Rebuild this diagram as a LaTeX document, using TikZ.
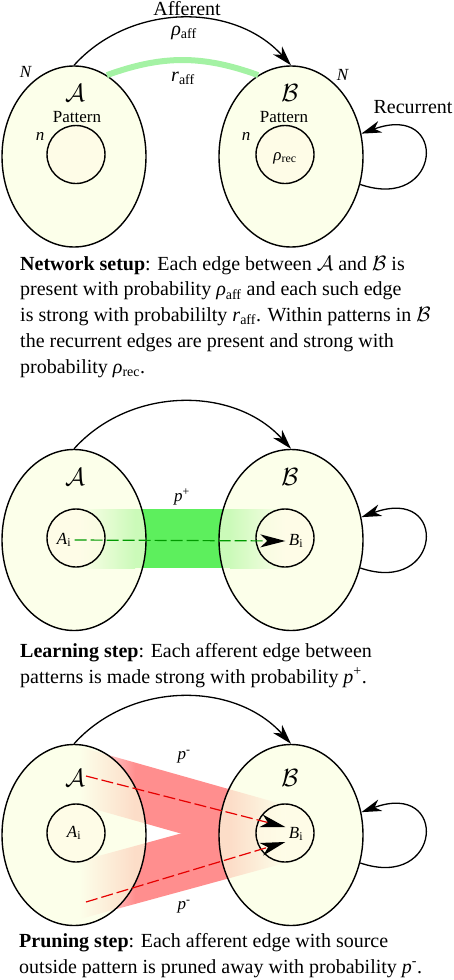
\documentclass[tikz,border=0pt]{standalone}
\usepackage{fontspec}
\setmainfont{Liberation Serif}
\usepackage{tikz}
\usetikzlibrary{shapes.geometric,arrows.meta,calc}
\definecolor{popfill}{HTML}{FBFFE1}
\definecolor{patfill}{HTML}{FFFCE7}
\definecolor{strongarc}{HTML}{A4F2A4}
\definecolor{learnband}{HTML}{5DEF5D}
\definecolor{learnline}{HTML}{009A00}
\definecolor{pruneband}{HTML}{FF8E8E}
\definecolor{pruneline}{HTML}{E60000}

\newcommand{\rhoaff}{\textit{ρ}\textsubscript{aff}}
\newcommand{\rhorec}{\textit{ρ}\textsubscript{rec}}
\newcommand{\raff}{\textit{r}\textsubscript{aff}}

\begin{document}
\begin{tikzpicture}[x=1pt, y=1pt,
    population/.style={ellipse, draw, line width=1.4pt, fill=popfill, fill opacity=0.7, minimum width=144pt, minimum height=181pt, inner sep=0pt},
    patcircle/.style={circle, draw, line width=1.4pt, fill=patfill, fill opacity=0.7, minimum size=58pt, inner sep=0pt},
    popname/.style={font=\fontsize{26}{26}\selectfont},
    lbl/.style={font=\fontsize{17}{17}\selectfont},
    biglbl/.style={font=\fontsize{20}{20}\selectfont},
    captext/.style={anchor=base west, align=left, inner sep=0pt, font=\fontsize{20}{25.7}\selectfont},
    afferent/.style={line width=1.3pt, -{Stealth[length=20pt, width=12pt, inset=6pt]}},
    edgetip/.style={-{Stealth[length=25pt, width=13pt, inset=7pt, color=black]}}
]
    \useasboundingbox (0,0) rectangle (454,-980);

    % Network setup
    \node[population] (popA1) at (74,-156.5) {};
    \node[population] (popB1) at (291,-156.5) {};
    \node[patcircle] (patA1) at (76,-154.5) {};
    \node[patcircle] (patB1) at (285,-154.5) {};
    \draw[strongarc, line width=6pt] (popA1.68) to[bend left=20] (popB1.112);
    \draw[afferent] (popA1.north) to[bend left=48] (popB1.north);
    \draw[afferent] (popB1.-22) .. controls +(82,-28) and +(88,32) .. (popB1.18);
    \node[biglbl] (aff1) at (187,-9) {Afferent};
    \node[biglbl] (rhoaff1) at (184,-33) {\rhoaff};
    \node[biglbl] (raff1) at (183,-78) {\raff};
    \node[biglbl] (rec1) at (413,-107) {Recurrent};
    \node[lbl] (NA1) at (26,-72) {\textit{N}};
    \node[lbl] (NB1) at (343,-75) {\textit{N}};
    \node[popname] (nameA1) at (75,-93) {$\mathcal{A}$};
    \node[popname] (nameB1) at (290,-93) {$\mathcal{B}$};
    \node[lbl] (pattA1) at (77,-117) {Pattern};
    \node[lbl] (pattB1) at (284,-117) {Pattern};
    \node[lbl] (nA1) at (40,-136) {\textit{n}};
    \node[lbl] (nB1) at (246,-136) {\textit{n}};
    \node[lbl] (rhorec1) at (285,-158) {\rhorec};
    % last baseline of the paragraph
    \node[captext] (cap1) at (20,-373) {\textbf{Network setup}: Each edge between $\mathcal{A}$ and $\mathcal{B}$ is\\
        present with probability \rhoaff{} and each such edge\\
        is strong with probabililty \raff. Within patterns in $\mathcal{B}$\\
        the recurrent edges are present and strong with\\
        probability \rhorec.};

    % Learning step
    \shade[left color=white, right color=learnband] (80,-509) rectangle (135,-568);
    \fill[learnband] (135,-509) rectangle (230,-568);
    \shade[left color=learnband, right color=white] (230,-509) rectangle (285,-568);
    \node[population] (popA2) at (74,-540) {};
    \node[population] (popB2) at (291,-540) {};
    \node[patcircle] (patA2) at (76,-538) {};
    \node[patcircle] (patB2) at (285,-538) {};
    \draw[afferent] (popA2.north) to[bend left=48] (popB2.north);
    \draw[afferent] (popB2.-22) .. controls +(82,-28) and +(88,32) .. (popB2.18);
    \node[popname] (nameA2) at (75,-477) {$\mathcal{A}$};
    \node[popname] (nameB2) at (290,-477) {$\mathcal{B}$};
    \node[lbl] (plus2) at (182,-497) {\textit{p}\textsuperscript{+}};
    \node[lbl] (Ai2) at (64,-540) {\textit{A}\textsubscript{i}};
    \node[lbl] (Bi2) at (296,-541) {\textit{B}\textsubscript{i}};
    \draw[learnline, line width=1.2pt, dash pattern=on 12pt off 4pt, edgetip] (Ai2.east) -- (Bi2.west);
    \node[captext] (cap2) at (20,-683) {\textbf{Learning step}: Each afferent edge between\\
        patterns is made strong with probability \textit{p}\textsuperscript{+}.};

    % Pruning step
    \begin{scope}
        \clip (80,-747) -- (285,-805) -- (285,-863) -- (80,-805) -- cycle;
        \shade[left color=white, right color=pruneband] (80,-740) rectangle (135,-930);
        \fill[pruneband] (135,-740) rectangle (230,-930);
        \shade[left color=pruneband, right color=white] (230,-740) rectangle (285,-930);
    \end{scope}
    \begin{scope}
        \clip (80,-919) -- (285,-863) -- (285,-805) -- (80,-861) -- cycle;
        \shade[left color=white, right color=pruneband] (80,-740) rectangle (135,-930);
        \fill[pruneband] (135,-740) rectangle (230,-930);
        \shade[left color=pruneband, right color=white] (230,-740) rectangle (285,-930);
    \end{scope}
    \node[population] (popA3) at (74,-835) {};
    \node[population] (popB3) at (291,-835) {};
    \node[patcircle] (patA3) at (76,-833) {};
    \node[patcircle] (patB3) at (285,-833) {};
    \draw[afferent] (popA3.north) to[bend left=48] (popB3.north);
    \draw[afferent] (popB3.-22) .. controls +(82,-28) and +(88,32) .. (popB3.18);
    \node[popname] (nameA3) at (75,-778) {$\mathcal{A}$};
    \node[popname] (nameB3) at (290,-778) {$\mathcal{B}$};
    \node[lbl] (minusU3) at (184,-757) {\textit{p}\textsuperscript{-}};
    \node[lbl] (minusL3) at (184,-907) {\textit{p}\textsuperscript{-}};
    \node[lbl] (Ai3) at (74,-833) {\textit{A}\textsubscript{i}};
    \node[lbl] (Bi3) at (296,-834) {\textit{B}\textsubscript{i}};
    \coordinate (srcU3) at (86,-776);
    \coordinate (srcL3) at (86,-902);
    \draw[pruneline, line width=1.2pt, dash pattern=on 12pt off 4pt, edgetip] (srcU3) -- ($(Bi3.west)+(0,7)$);
    \draw[pruneline, line width=1.2pt, dash pattern=on 12pt off 4pt, edgetip] (srcL3) -- ($(Bi3.west)+(0,-8)$);
    \node[captext] (cap3) at (19,-973) {\textbf{Pruning step}: Each afferent edge with source\\
        outside pattern is pruned away with probability \textit{p}\textsuperscript{-}.};
\end{tikzpicture}
\end{document}
